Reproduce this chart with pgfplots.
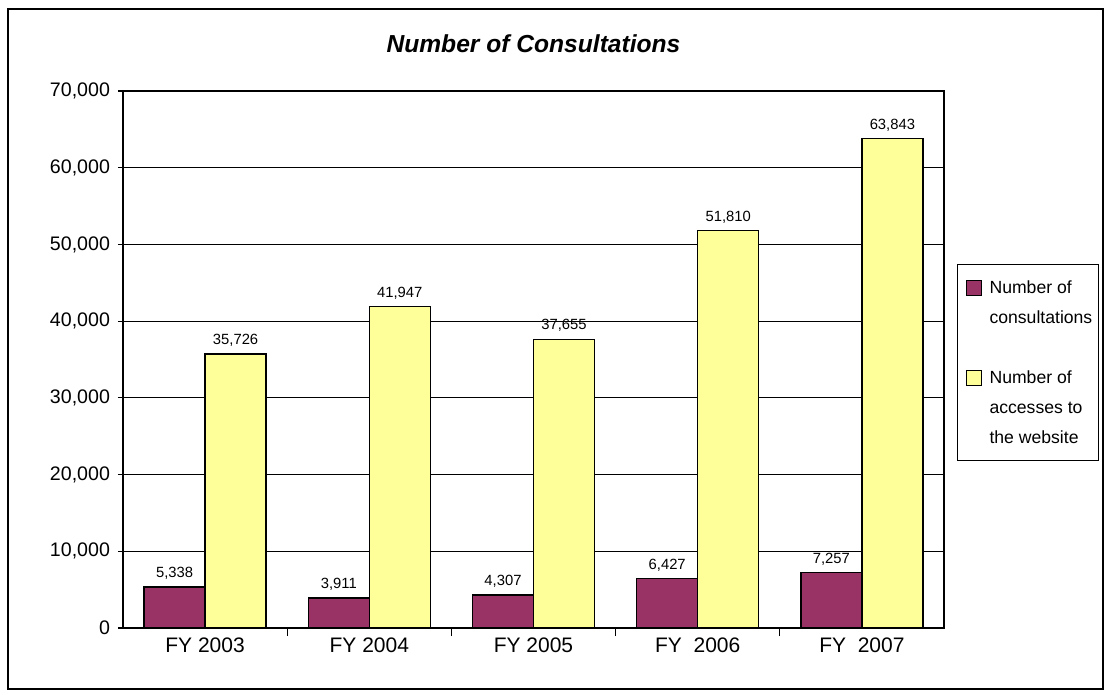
\documentclass[border=0pt]{standalone}
\usepackage{pgfplots}
\pgfplotsset{compat=1.18}
\usepackage{fontspec}
\setmainfont{Liberation Sans}
\definecolor{maroon}{HTML}{993366}
\definecolor{lyellow}{HTML}{FFFF99}
\begin{document}
\begin{tikzpicture}
% canvas 1110x695 px at 0.5pt/px
\path (0,0) rectangle (555pt,-347.5pt);
\draw[line width=1pt] (4pt,-4.5pt) rectangle (551.5pt,-344.5pt);
\begin{axis}[
  at={(61.5pt,-314pt)}, anchor=south west,
  scale only axis, width=410.5pt, height=268.5pt,
  ybar=0pt, bar width=30.5pt,
  xmin=-0.5, xmax=4.5, ymin=0, ymax=70000,
  xtick={0,1,2,3,4},
  xticklabels={FY 2003,FY 2004,FY 2005,FY\ \ 2006,FY\ \ 2007},
  major x tick style={draw=none},
  minor xtick={0.5,1.5,2.5,3.5},
  minor tick length=4pt,
  minor x tick style={black, line width=0.6pt},
  ytick={0,10000,...,70000},
  ymajorgrids, grid style={black, line width=0.6pt},
  major tick length=2.5pt,
  ytick style={black, line width=0.6pt},
  tick align=outside,
  xtick pos=bottom, ytick pos=left,
  axis line style={line width=0.9pt},
  scaled y ticks=false,
  yticklabel style={font=\fontsize{9.8pt}{11pt}\selectfont, xshift=-0.5pt, /pgf/number format/.cd, fixed, 1000 sep={,}, assume math mode=true},
  xticklabel style={font=\fontsize{10.5pt}{12pt}\selectfont, yshift=1pt},
  title={\textbf{\textit{Number of Consultations}}},
  title style={font=\fontsize{12.3pt}{14pt}\selectfont, yshift=9.5pt},
  nodes near coords,
  nodes near coords style={font=\fontsize{7.4pt}{8pt}\selectfont, /pgf/number format/.cd, fixed, 1000 sep={,}, assume math mode=true},
  every axis plot/.append style={draw=black, line width=0.6pt},
  legend style={at={(1.0158,0.494)}, anchor=west, draw=black, line width=0.6pt,
    font=\fontsize{8.8pt}{15pt}\selectfont, row sep=0pt,
    inner xsep=3pt, inner ysep=4pt,
    nodes={inner sep=0pt, text height=10.5pt, text depth=4.5pt}, column sep=0pt},
  legend cell align=left,
  legend image code/.code={\draw[#1, line width=0.6pt] (1.5pt,-3.9pt) rectangle (9pt,3.6pt); \path[draw=none, fill=none] (0pt,0pt) -- (13pt,0pt);},
]
\addlegendimage{fill=maroon, draw=black}
\addlegendimage{empty legend}
\addlegendimage{empty legend}
\addlegendimage{fill=lyellow, draw=black}
\addlegendimage{empty legend}
\addlegendimage{empty legend}
\addplot[fill=maroon, bar shift=-15.25pt, forget plot] coordinates {(0,5338) (1,3911) (2,4307) (3,6427) (4,7257)};
\addplot[fill=lyellow, bar shift=15.25pt, forget plot] coordinates {(0,35726) (1,41947) (2,37655) (3,51810) (4,63843)};
\legend{Number of, consultations, \mbox{}, Number of, accesses to, the website}
\end{axis}
\end{tikzpicture}
\end{document}
